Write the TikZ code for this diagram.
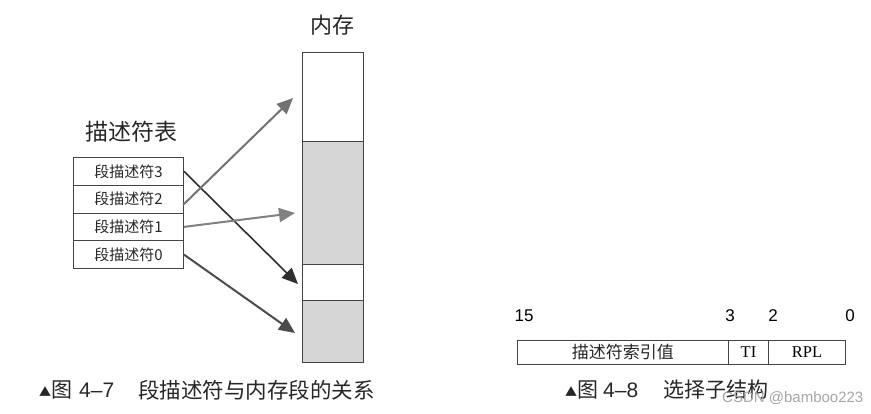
\documentclass[tikz,border=0pt]{standalone}
\usepackage{fontspec}
\setmainfont{Liberation Serif}
\newfontfamily\cjk{Noto Sans CJK SC}
\newfontfamily\numf{Liberation Sans}
\usetikzlibrary{arrows.meta}
\definecolor{linegray}{HTML}{444444}
\definecolor{segfill}{HTML}{D6D6D6}
\begin{document}
\begin{tikzpicture}[x=1pt,y=-1pt,
  rowbox/.style={draw=linegray,line width=1pt,minimum width=110pt,minimum height=27.75pt,inner sep=0pt,anchor=north west,font=\cjk\fontsize{15}{16}\selectfont,text=black!85},
  seg/.style={draw=linegray,line width=1.3pt,minimum width=61pt,inner sep=0pt,anchor=north west},
  conn/.style={line width=2pt,-{Triangle[length=16pt,width=14pt]}},
  captxt/.style={font=\cjk\fontsize{21}{22}\selectfont,anchor=west,inner sep=0pt,text=black!85},
  selbox/.style={draw=linegray,line width=0.9pt,minimum height=24pt,inner sep=0pt,anchor=north west},
  bitnum/.style={font=\numf\fontsize{17}{18}\selectfont,inner sep=0pt}
]
\useasboundingbox (0,0) rectangle (871,413);
% memory
\node[font=\cjk\fontsize{22}{23}\selectfont, text=black!85] (memlbl) at (332,25) {内存};
\node[seg, fill=white, minimum height=89pt] (m3) at (302,52) {};
\node[seg, fill=segfill, minimum height=123pt] (m2) at (302,141) {};
\node[seg, fill=white, minimum height=36pt] (m1) at (302,264) {};
\node[seg, fill=segfill, minimum height=62pt] (m0) at (302,300) {};
% descriptor table
\node[font=\cjk\fontsize{23}{24}\selectfont, text=black!85] (tbllbl) at (131,132) {描述符表};
\node[rowbox] (d3) at (73,157) {段描述符3};
\node[rowbox] (d2) at (73,184.75) {段描述符2};
\node[rowbox] (d1) at (73,212.5) {段描述符1};
\node[rowbox] (d0) at (73,240.25) {段描述符0};
% arrow endpoints
\coordinate (s2) at (183,205);
\coordinate (t2) at (293,98);
\coordinate (t1) at (295,213);
\coordinate (t3) at (298,284);
\coordinate (t0) at (295,333);
\draw[conn, line width=1.6pt, draw=black!82, fill=black!82] (d3.east) -- (t3);
\draw[conn, draw=black!55] (s2) -- (t2);
\draw[conn, draw=black!50] (d1.east) -- (t1);
\draw[conn, draw=black!70] (d0.east) -- (t0);
% caption left
\node[captxt, font=\cjk\fontsize{12}{12}\selectfont] (tri1) at (39,392) {▲};
\node[captxt] (fig1) at (51,390) {图};
\node[captxt, font=\numf\fontsize{21}{22}\selectfont] (num1) at (79,390) {4–7};
\node[captxt, font=\cjk\fontsize{21.5}{22}\selectfont] (txt1) at (138,390) {段描述符与内存段的关系};
% selector structure
\node[bitnum] (b15) at (524,316) {15};
\node[bitnum] (b3) at (730,316) {3};
\node[bitnum] (b2) at (773,316) {2};
\node[bitnum] (b0) at (850,316) {0};
\node[selbox, minimum width=211pt, font=\cjk\fontsize{17}{18}\selectfont, text=black!85] (idx) at (517,340) {描述符索引值};
\node[selbox, minimum width=40pt, font=\fontsize{16.5}{17}\selectfont] (ti) at (728,340) {TI};
\node[selbox, minimum width=77pt, font=\fontsize{16.5}{17}\selectfont] (rpl) at (768,340) {RPL};
% caption right
\node[captxt, font=\cjk\fontsize{12}{12}\selectfont] (tri2) at (565,392) {▲};
\node[captxt] (fig2) at (577,390) {图};
\node[captxt, font=\numf\fontsize{21}{22}\selectfont] (num2) at (603,390) {4–8};
\node[captxt] (txt2) at (663,390) {选择子结构};
% watermark
\node[font=\numf\fontsize{15}{16}\selectfont, text=black!35, anchor=west, inner sep=0pt] (wm) at (722,398) {CSDN @bamboo223};
\end{tikzpicture}
\end{document}
